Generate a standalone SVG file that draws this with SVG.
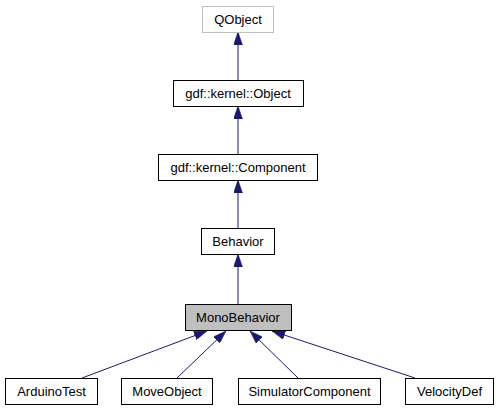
<svg xmlns="http://www.w3.org/2000/svg" width="502" height="411" viewBox="0 0 502 411">
<style>
.n rect{fill:#fff;stroke:#000;stroke-width:1}
.n text{font-family:"Liberation Sans",Arial,sans-serif;font-size:13px;text-anchor:middle;fill:#000}
.e path{fill:none;stroke:#191970;stroke-width:1}
</style>
<defs>
<marker id="a" viewBox="0 0 13 9" refX="13" refY="4.5" markerUnits="userSpaceOnUse" markerWidth="13" markerHeight="9" orient="auto">
<path d="M0,0 L13,4.5 L0,9 z" fill="#191970" stroke="#191970" stroke-width="0.5"/>
</marker>
</defs>
<rect width="502" height="411" fill="#fff"/>
<g class="e">
<path d="M238,80 L238,32" marker-end="url(#a)"/>
<path d="M238,154 L238,106" marker-end="url(#a)"/>
<path d="M238,228 L238,180" marker-end="url(#a)"/>
<path d="M238,304 L238,254" marker-end="url(#a)"/>
<path d="M82,378 L207,331" marker-end="url(#a)"/>
<path d="M177,378 L226,331" marker-end="url(#a)"/>
<path d="M298,378 L250,331" marker-end="url(#a)"/>
<path d="M415,378 L272,331" marker-end="url(#a)"/>
</g>
<g id="qobject" class="n"><rect x="202.5" y="6.5" width="71" height="26" style="stroke:#bfbfbf"/><text x="238" y="24">QObject</text></g>
<g id="object" class="n"><rect x="173.5" y="80.5" width="130" height="26"/><text x="238" y="98">gdf::kernel::Object</text></g>
<g id="component" class="n"><rect x="158.5" y="154.5" width="159" height="26"/><text x="238" y="172">gdf::kernel::Component</text></g>
<g id="behavior" class="n"><rect x="201.5" y="228.5" width="73" height="26"/><text x="238" y="246">Behavior</text></g>
<g id="monobehavior" class="n"><rect x="185.5" y="304.5" width="106" height="26" style="fill:#bfbfbf"/><text x="238" y="322">MonoBehavior</text></g>
<g id="arduinotest" class="n"><rect x="5.5" y="378.5" width="92" height="26"/><text x="51.5" y="396">ArduinoTest</text></g>
<g id="moveobject" class="n"><rect x="121.5" y="378.5" width="91" height="26"/><text x="167" y="396">MoveObject</text></g>
<g id="simulatorcomponent" class="n"><rect x="238.5" y="378.5" width="142" height="26"/><text x="309.5" y="396">SimulatorComponent</text></g>
<g id="velocitydef" class="n"><rect x="405.5" y="378.5" width="88" height="26"/><text x="449.5" y="396">VelocityDef</text></g>
</svg>
